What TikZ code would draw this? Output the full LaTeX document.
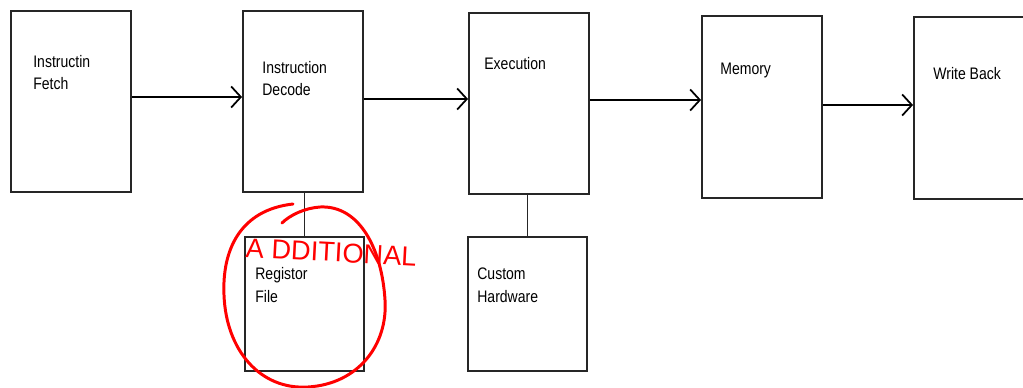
\documentclass[tikz,border=0pt]{standalone}
\usepackage{fontspec}
\usetikzlibrary{arrows.meta}
\newfontfamily\stagefont[FakeStretch=0.84]{Liberation Sans}
\newfontfamily\notefont{Liberation Sans}

\begin{document}
\begin{tikzpicture}[x=0.02cm, y=-0.02cm,
    stage/.style={draw=black!85, line width=1.1pt, inner sep=0pt, minimum width=2.4cm, minimum height=3.62cm},
    unit/.style={stage, minimum width=2.38cm, minimum height=2.68cm},
    stagetext/.style={anchor=base west, align=left, inner sep=0pt, font=\stagefont\fontsize{9.5}{13}\selectfont},
    flow/.style={draw, line width=1pt, -{Straight Barb[length=5.5pt, width=12pt]}},
    link/.style={draw=black!85, line width=1.1pt}]
    \definecolor{ink}{HTML}{FF0000}

    \useasboundingbox (0,0) rectangle (1023,388);

    % five pipeline stages
    \node[stage] (fetch) at (71,101.5) {};
    \node[stage] (decode) at (303,101.5) {};
    \node[stage] (execute) at (529,103.5) {};
    \node[stage, minimum height=3.64cm] (memory) at (762,107) {};
    \node[stage, minimum height=3.64cm] (writeback) at (974,108) {};

    % base of a two-line name sits on its last line
    \node[stagetext] (fetchname) at (33,90) {Instructin\\Fetch};
    \node[stagetext] (decodename) at (262,96) {Instruction\\Decode};
    \node[stagetext] (executename) at (484,70) {Execution};
    \node[stagetext] (memoryname) at (720,75) {Memory};
    \node[stagetext] (writebackname) at (933,80) {Write Back};

    \path[flow] (fetch.east |- 0,97) -- (decode.west |- 0,97);
    \path[flow] (decode.east |- 0,99) -- (execute.west |- 0,99);
    \path[flow] (execute.east |- 0,100) -- (memory.west |- 0,100);
    \path[flow] (memory.east |- 0,105) -- (writeback.west |- 0,105);

    % side units
    \node[unit] (regfile) at (304.5,304) {};
    \node[unit] (custom) at (527.5,304) {};

    \node[stagetext] (regfilename) at (255,302) {Registor\\File};
    \node[stagetext] (customname) at (477,302) {Custom\\Hardware};

    \path[link] (regfile.north) -- (regfile.north |- decode.south);
    \path[link] (custom.north) -- (custom.north |- execute.south);

    % red note
    \path[draw=ink, line width=1.7pt, line cap=round] (293,204)
        .. controls (240,210) and (222,250) .. (224,295)
        .. controls (226,350) and (260,390) .. (308,387)
        .. controls (358,384) and (388,345) .. (385,300)
        .. controls (382,250) and (360,205) .. (320,207)
        .. controls (305,208) and (290,215) .. (282,223);
    \node[anchor=base west, inner sep=0pt, rotate=-3, font=\notefont\fontsize{15.5}{16}\selectfont] (note) at (245,257) {\textcolor{ink}{A DDITIONAL}};

\end{tikzpicture}
\end{document}
